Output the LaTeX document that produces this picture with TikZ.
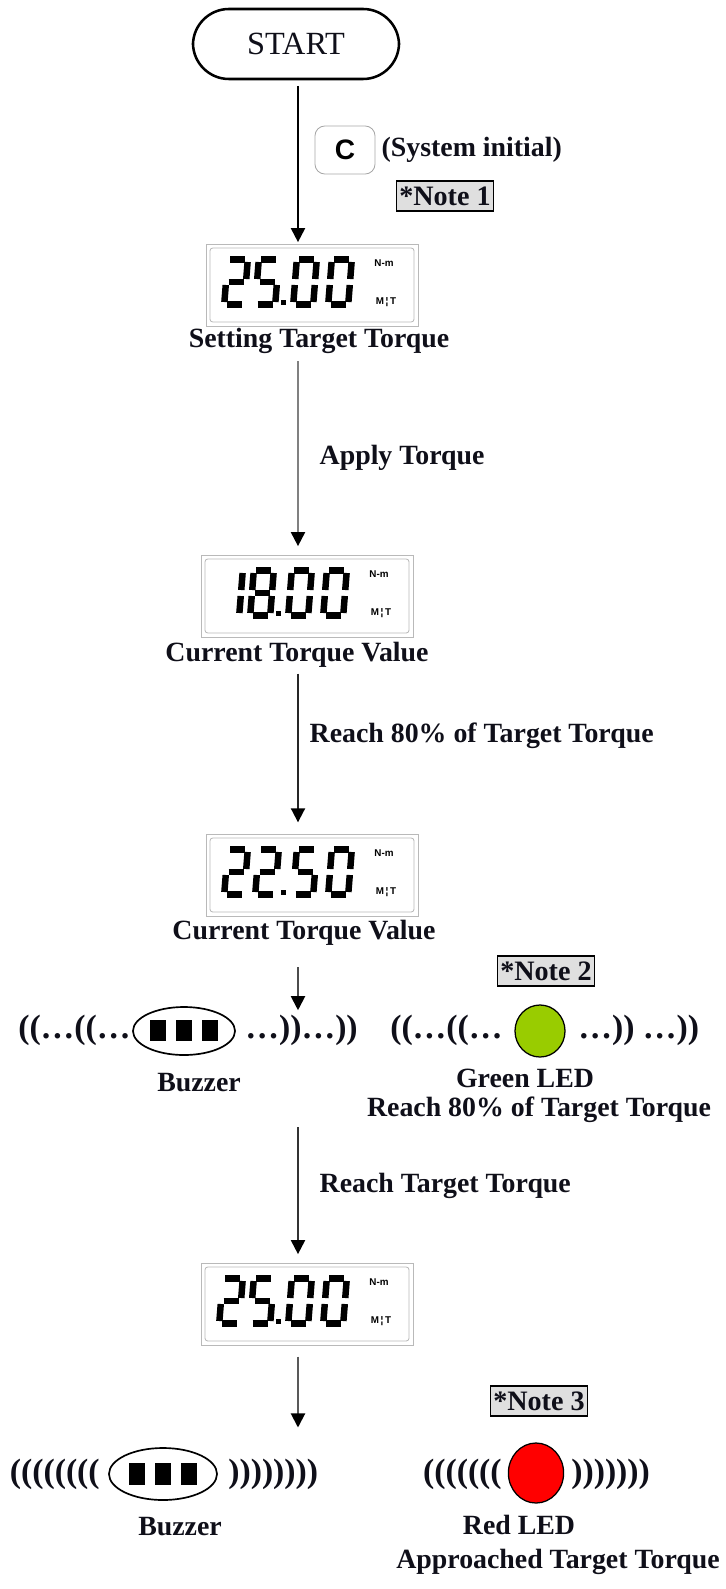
\documentclass[tikz,border=0pt]{standalone}
\usepackage{fontspec}
\setmainfont{Liberation Serif}
\newfontfamily\lcdsans{Liberation Sans}
\usepackage{tikz}
\usetikzlibrary{arrows.meta,shapes.geometric}
\definecolor{ink}{RGB}{15,15,25}
\definecolor{ledgreen}{RGB}{153,204,0}
\definecolor{ledred}{RGB}{255,0,0}

% segment lists of the digits
\newcommand{\digzero}{a,b,c,d,e,f}
\newcommand{\digone}{b,c}
\newcommand{\digtwo}{a,b,g,e,d}
\newcommand{\digfive}{a,f,g,c,d}
\newcommand{\digeight}{a,b,c,d,e,f,g}

% seven segment digit: centre x, centre y, segments
\newcommand{\lcddigit}[3]{%
  \begin{scope}[shift={({#1},{#2})}, xslant=0.08]
    \coordinate (a1) at (-7.5,-22.5); \coordinate (a2) at (7.5,-22.5);
    \coordinate (b1) at (10,-20); \coordinate (b2) at (10,-3);
    \coordinate (c1) at (10,3); \coordinate (c2) at (10,20);
    \coordinate (d1) at (-7.5,22.5); \coordinate (d2) at (7.5,22.5);
    \coordinate (e1) at (-10,3); \coordinate (e2) at (-10,20);
    \coordinate (f1) at (-10,-20); \coordinate (f2) at (-10,-3);
    \coordinate (g1) at (-7.5,0); \coordinate (g2) at (7.5,0);
    \foreach \s in #3 {\draw[lcdseg] (\s1) -- (\s2);}
  \end{scope}}

% display: name, centre x, centre y, four digits
\newcommand{\lcdpanel}[7]{%
  \draw (#2, #3) node(#1)[lcdframe]{};
  \draw (#2, #3) node(#1in)[lcdinner]{};
  \lcddigit{#2-76}{#3-3}{#4}
  \lcddigit{#2-45}{#3-3}{#5}
  \lcddigit{#2-7}{#3-3}{#6}
  \lcddigit{#2+28}{#3-3}{#7}
  \fill ({#2-31}, {#3+15}) rectangle ++(5, 5);
  \draw ({#2+72}, {#3-22}) node(#1nm)[unit]{N-m};
  \draw ({#2+74}, {#3+17}) node(#1mt)[unit]{M\,¦\,T};
}

\begin{document}
\begin{tikzpicture}[x=0.025cm, y=-0.025cm,
    lbl/.style={text=ink, font=\bfseries\fontsize{19.8}{23}\selectfont, inner sep=1pt},
    startbox/.style={draw, line width=1.8pt, rounded corners=0.9cm, minimum width=5.15cm,
      minimum height=1.75cm, text=ink, font=\fontsize{23}{26}\selectfont},
    keybox/.style={draw=gray!70, line width=0.6pt, rounded corners=7pt, minimum width=1.5cm,
      minimum height=1.2cm, font=\lcdsans\bfseries\fontsize{20}{22}\selectfont},
    notebox/.style={draw, line width=1pt, fill=gray!25, text=ink, inner xsep=2pt, inner ysep=4pt,
      font=\bfseries\fontsize{20}{23}\selectfont},
    wave/.style={text=ink, inner sep=0pt, font=\bfseries\fontsize{24}{27}\selectfont},
    buzzer/.style={ellipse, draw, line width=1.2pt, inner sep=0pt},
    led/.style={ellipse, draw, line width=0.9pt, inner sep=0pt},
    lcdframe/.style={draw=gray!55, line width=0.6pt, minimum width=5.3cm, minimum height=2.05cm},
    lcdinner/.style={draw=gray!55, line width=0.6pt, rounded corners=2pt, minimum width=5.1cm,
      minimum height=1.85cm},
    lcdseg/.style={line width=4.6pt},
    unit/.style={inner sep=0pt, font=\lcdsans\bfseries\fontsize{7}{8}\selectfont},
    flow/.style={line width=1.4pt, -{Triangle[length=10pt, width=10pt, color=black]}}]
  \useasboundingbox (0, 0) rectangle (725, 1589);
  \coordinate (spine) at (298, 0);

  % start and setting
  \draw (296, 44) node(start)[startbox]{START};
  \draw (345, 150) node(ckey)[keybox]{C};
  \draw (380, 150) node(sysinit)[lbl, anchor=west]{(System initial)};
  \draw (445, 196) node(note1)[notebox]{*Note 1};
  \lcdpanel{lcdA}{312}{285}{\digtwo}{\digfive}{\digzero}{\digzero}
  \draw (319, 341) node(setlbl)[lbl]{Setting Target Torque};
  \draw[flow, black, shorten <=4pt, shorten >=1pt] (start.south -| spine) -- (lcdA.north -| spine);

  % apply torque
  \draw (318, 458) node(applylbl)[lbl, anchor=west]{Apply Torque};
  \lcdpanel{lcdB}{307}{596}{\digone}{\digeight}{\digzero}{\digzero}
  \draw (297, 655) node(curlblA)[lbl]{Current Torque Value};
  \draw[flow, gray, shorten <=4pt, shorten >=6pt] (setlbl.south -| spine) -- (lcdB.north -| spine);

  % 80 percent
  \draw (308, 736) node(reachlblA)[lbl, anchor=west]{Reach 80\% of Target Torque};
  \lcdpanel{lcdC}{312}{875}{\digtwo}{\digtwo}{\digfive}{\digzero}
  \draw (304, 933) node(curlblB)[lbl]{Current Torque Value};
  \draw[flow, black!85, shorten <=3pt, shorten >=8pt] (curlblA.south -| spine) -- (lcdC.north -| spine);

  % buzzer and green led
  \draw (546, 971) node(note2)[notebox]{*Note 2};
  \draw (184, 1031) node(buzzA)[buzzer, minimum width=2.55cm, minimum height=1.2cm]{};
  \foreach \dx in {-26, 0, 26}
    \fill ({184+\dx-8}, 1020) rectangle ++(16, 21);
  \draw (131, 1030) node(wavesLA)[wave, anchor=east]{((…((…};
  \draw (245, 1030) node(wavesRA)[wave, anchor=west]{…))…))};
  \draw (540, 1031) node(ledG)[led, fill=ledgreen, minimum width=1.25cm, minimum height=1.3cm]{};
  \draw (503, 1030) node(wavesLB)[wave, anchor=east]{((…((…};
  \draw (578, 1030) node(wavesRB)[wave, anchor=west]{…)) …))};
  \draw (199, 1083) node(buzzlblA)[lbl]{Buzzer};
  \draw (525, 1078) node(greenlblA)[lbl]{Green LED};
  \draw (539, 1110) node(greenlblB)[lbl]{Reach 80\% of Target Torque};
  \draw[flow, gray!60!black, shorten <=14pt, shorten >=3pt] (curlblB.south -| spine) -- (wavesRA.north -| spine);

  % target reached
  \draw (318, 1186) node(reachlblB)[lbl, anchor=west]{Reach Target Torque};
  \lcdpanel{lcdD}{307}{1304}{\digtwo}{\digfive}{\digzero}{\digzero}
  \draw[flow, black!80, shorten <=2pt, shorten >=6pt] (greenlblB.south -| spine) -- (lcdD.north -| spine);

  % buzzer and red led
  \draw (539, 1401) node(note3)[notebox]{*Note 3};
  \draw (163, 1474) node(buzzB)[buzzer, minimum width=2.7cm, minimum height=1.3cm]{};
  \foreach \dx in {-26, 0, 26}
    \fill ({163+\dx-8}, 1463) rectangle ++(16, 22);
  \draw (100, 1474) node(wavesLC)[wave, anchor=east]{((((((((};
  \draw (228, 1474) node(wavesRC)[wave, anchor=west]{))))))))};
  \draw (536, 1473) node(ledR)[led, fill=ledred, minimum width=1.38cm, minimum height=1.5cm]{};
  \draw (502, 1474) node(wavesLD)[wave, anchor=east]{(((((((};
  \draw (571, 1474) node(wavesRD)[wave, anchor=west]{)))))))};
  \draw (180, 1527) node(buzzlblB)[lbl]{Buzzer};
  \draw (519, 1525) node(redlblA)[lbl]{Red LED};
  \draw (558, 1562) node(redlblB)[lbl]{Approached Target Torque};
  \draw[flow, gray!70!black, shorten <=8pt, shorten >=22pt] (lcdD.south -| spine) -- (wavesRC.north -| spine);
\end{tikzpicture}
\end{document}
